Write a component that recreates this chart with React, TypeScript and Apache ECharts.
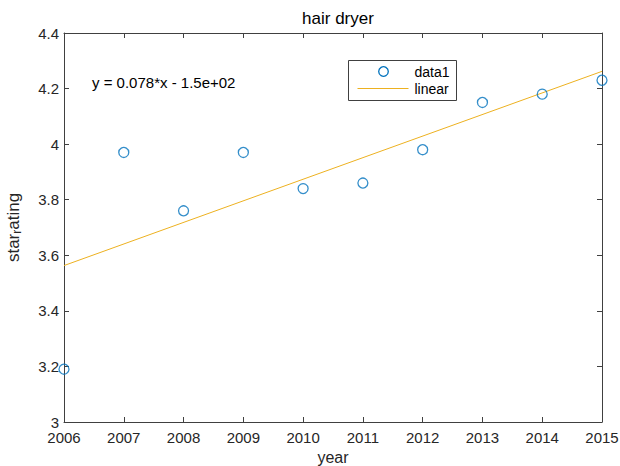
import React, { useEffect, useRef } from "react";
import * as echarts from "echarts";

const years = [2006, 2007, 2008, 2009, 2010, 2011, 2012, 2013, 2014, 2015];
const starRating = [3.19, 3.97, 3.76, 3.97, 3.84, 3.86, 3.98, 4.15, 4.18, 4.23];
const fitYears = [2006, 2015];
const fitValues = [3.563, 4.262];
const equationText = "y = 0.078*x - 1.5e+02";
const titleText = "hair dryer";
const legendNames = ["data1", "linear"];

const FONT = "'Liberation Sans', Arial, Helvetica, sans-serif";
const AX = "#404040";
const TXT = "#262626";
const BLUE = "#0072BD";
const ORANGE = "#EDB120";

export default function App() {
  const ref = useRef<HTMLDivElement>(null);
  useEffect(() => {
    if (!ref.current) return;
    const chart = echarts.init(ref.current, undefined, { renderer: "svg" });
    const tickInside = { show: true, inside: true, length: 5, lineStyle: { color: AX } };
    chart.setOption({
      animation: false,
      backgroundColor: "#ffffff",
      textStyle: { fontFamily: FONT },
      title: {
        text: titleText,
        left: 333,
        textAlign: "center",
        top: 5,
        textStyle: { fontSize: 17, fontWeight: "normal", color: "#000", fontFamily: FONT },
      },
      grid: { left: 64, top: 33, right: 18, bottom: 44, containLabel: false, outerBoundsMode: "none" },
      xAxis: [
        {
          type: "value",
          min: 2006,
          max: 2015,
          interval: 1,
          name: "year",
          nameLocation: "middle",
          nameGap: 26,
          nameTextStyle: { fontSize: 16, color: TXT, fontFamily: FONT, lineHeight: 16 },
          axisLine: { show: true, lineStyle: { color: AX } },
          axisTick: tickInside,
          axisLabel: { fontSize: 15, lineHeight: 15, color: TXT, margin: 8, formatter: (v: number) => String(v) },
          splitLine: { show: false },
        },
        {
          type: "value",
          position: "top",
          min: 2006,
          max: 2015,
          interval: 1,
          axisLine: { show: true, lineStyle: { color: AX } },
          axisTick: tickInside,
          axisLabel: { show: false },
          splitLine: { show: false },
        },
      ],
      yAxis: [
        {
          type: "value",
          min: 3,
          max: 4.4,
          interval: 0.2,
          name: "{n|star}{s|r}{n|ating}",
          nameLocation: "middle",
          nameRotate: 90,
          nameGap: 41,
          nameTextStyle: {
            fontSize: 17,
            color: TXT,
            fontFamily: FONT,
            rich: {
              n: { fontSize: 17, color: TXT, fontFamily: FONT, lineHeight: 20, verticalAlign: "middle" },
              s: { fontSize: 12, color: TXT, fontFamily: FONT, lineHeight: 20, verticalAlign: "bottom", padding: [10, 0, 0, 0] },
            },
          },
          axisLine: { show: true, lineStyle: { color: AX } },
          axisTick: tickInside,
          axisLabel: { fontSize: 15, lineHeight: 14, color: TXT, margin: 5 },
          splitLine: { show: false },
        },
        {
          type: "value",
          position: "right",
          min: 3,
          max: 4.4,
          interval: 0.2,
          axisLine: { show: true, lineStyle: { color: AX } },
          axisTick: tickInside,
          axisLabel: { show: false },
          splitLine: { show: false },
        },
      ],
      graphic: [
        {
          type: "text",
          left: 92,
          top: 75,
          style: { text: equationText, fill: "#000", font: `15px ${FONT}` },
        },
        {
          type: "group",
          left: 348,
          top: 60,
          children: [
            {
              type: "rect",
              shape: { x: 0, y: 0, width: 108, height: 40 },
              style: { fill: "#fff", stroke: AX, lineWidth: 1 },
            },
            {
              type: "circle",
              shape: { cx: 35, cy: 11, r: 4.8 },
              style: { fill: "none", stroke: BLUE, lineWidth: 1.3 },
            },
            {
              type: "line",
              shape: { x1: 9, y1: 28, x2: 60, y2: 28 },
              style: { stroke: ORANGE, lineWidth: 1.2 },
            },
            {
              type: "text",
              x: 66,
              y: 11,
              style: { text: legendNames[0], fill: "#000", font: `14px ${FONT}`, verticalAlign: "middle" },
            },
            {
              type: "text",
              x: 66,
              y: 28,
              style: { text: legendNames[1], fill: "#000", font: `14px ${FONT}`, verticalAlign: "middle" },
            },
          ],
        },
      ],
      series: [
        {
          name: legendNames[0],
          type: "scatter",
          symbol: "circle",
          symbolSize: 10,
          itemStyle: { color: "rgba(255,255,255,0)", borderColor: BLUE, borderWidth: 1.3 },
          data: years.map((y, i) => [y, starRating[i]]),
          z: 3,
        },
        {
          name: legendNames[1],
          type: "line",
          showSymbol: false,
          symbol: "none",
          lineStyle: { color: ORANGE, width: 1 },
          itemStyle: { color: ORANGE },
          data: fitYears.map((y, i) => [y, fitValues[i]]),
          z: 2,
        },
      ],
    });
    return () => chart.dispose();
  }, []);
  return (
    <div
      ref={ref}
      style={{ position: "fixed", left: 0, top: 0, width: 620, height: 466, background: "#fff" }}
    />
  );
}
